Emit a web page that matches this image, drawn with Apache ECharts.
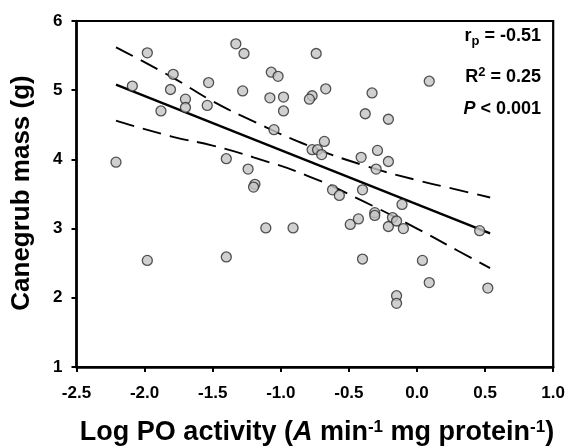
<!DOCTYPE html>
<html>
<head>
<meta charset="utf-8">
<script src="https://cdn.jsdelivr.net/npm/echarts@6/dist/echarts.min.js"></script>
<style>
html,body{margin:0;padding:0;background:#fff;}
#chart{width:568px;height:448px;}
</style>
</head>
<body>
<div id="chart"></div>
<script>
// log PO activity vs canegrub mass
var logPO = [-2.21,-2.09,-1.98,-1.98,-1.88,-1.81,-1.79,-1.70,-1.70,-1.53,-1.54,-1.40,-1.40,-1.33,-1.27,-1.28,
    -1.24,-1.19,-1.20,-1.11,-1.07,-1.02,-1.08,-1.05,-0.98,-0.98,-0.91,-0.74,-0.67,-0.77,-0.79,-0.68,
    -0.77,-0.73,-0.70,-0.62,-0.57,-0.49,-0.43,-0.41,-0.40,-0.40,-0.38,-0.33,-0.29,-0.30,-0.31,-0.31,
    -0.21,-0.21,-0.21,-0.18,-0.15,-0.15,-0.15,-0.11,-0.10,0.04,0.09,0.09,0.46,0.52];
var mass = [3.96,5.06,5.54,2.54,4.70,5.01,5.23,4.87,4.75,5.11,4.78,4.01,2.59,5.67,5.53,4.99,
    3.86,3.64,3.60,3.01,5.26,5.20,4.89,4.43,4.90,4.70,3.01,5.53,5.02,4.92,4.87,4.26,
    4.14,4.14,4.07,3.56,3.48,3.06,3.14,4.03,3.56,2.56,4.66,4.96,4.13,3.86,3.23,3.19,
    4.58,3.97,3.03,3.16,3.11,2.03,1.92,3.35,3.00,2.54,2.22,5.13,2.97,2.14];

// fitted line and 95% band
var fitX = [-2.21,0.537];
var fitY = [5.08,2.93];
var bandX = [-2.21,-1.8,-1.5,-1.2,-0.8,-0.4,0,0.3,0.537];
var bandUp = [5.62,5.19,4.84,4.55,4.20,3.92,3.70,3.56,3.45];
var bandLo = [4.56,4.33,4.20,4.03,3.76,3.40,3.00,2.68,2.43];

var xTicks = [-2.5,-2.0,-1.5,-1.0,-0.5,0.0,0.5,1.0];
var yTicks = [1,2,3,4,5,6];

function pairs(a,b){
    var out = [];
    for(var i=0;i<a.length;i++){ out.push([a[i],b[i]]); }
    return out;
}

var font = 'Liberation Sans, Arial, sans-serif';
var chart = echarts.init(document.getElementById('chart'));
var option = {
    animation:false,
    grid:{left:76.5,right:13,top:21,bottom:81,show:true,borderColor:'#000',borderWidth:2.2,backgroundColor:'transparent'},
    xAxis:{
        type:'value',min:xTicks[0],max:xTicks[xTicks.length-1],interval:0.5,
        axisLine:{onZero:false,lineStyle:{color:'#000',width:2.5}},
        axisTick:{inside:false,length:5,lineStyle:{color:'#000',width:2}},
        splitLine:{show:false},
        axisLabel:{margin:18,color:'#000',fontWeight:'bold',fontSize:17,fontFamily:font,
            formatter:function(v){return v.toFixed(1);}}
    },
    yAxis:{
        type:'value',min:yTicks[0],max:yTicks[yTicks.length-1],interval:1,
        axisLine:{onZero:false,lineStyle:{color:'#000',width:2.5}},
        axisTick:{inside:false,length:5,lineStyle:{color:'#000',width:2}},
        splitLine:{show:false},
        axisLabel:{margin:14,color:'#000',fontWeight:'bold',fontSize:17,fontFamily:font}
    },
    series:[
        {type:'line',data:pairs(bandX,bandUp),smooth:true,symbol:'none',z:2,
            lineStyle:{color:'#000',width:1.9,type:[19,9]}},
        {type:'line',data:pairs(bandX,bandLo),smooth:true,symbol:'none',z:2,
            lineStyle:{color:'#000',width:1.9,type:[19,9]}},
        {type:'line',data:pairs(fitX,fitY),symbol:'none',z:2,
            lineStyle:{color:'#000',width:2.4}},
        {type:'scatter',data:pairs(logPO,mass),symbolSize:10,z:3,
            itemStyle:{color:'#c4c4c4',borderColor:'#2a2a2a',borderWidth:1.3}}
    ],
    graphic:[
        {type:'text',x:317,y:433,style:{
            text:'Log PO activity ({i|A} min{s|-1} mg protein{s|-1})',
            font:'bold 27px '+font,fill:'#000',align:'center',verticalAlign:'middle',
            rich:{i:{fontStyle:'italic',fontWeight:'bold',fontSize:27,fontFamily:font},
                  s:{fontWeight:'bold',fontSize:17,fontFamily:font,padding:[0,0,12,0]}}
        }},
        {type:'text',rotation:Math.PI/2,x:9,y:193,style:{
            text:'Canegrub mass (g)',font:'bold 26px '+font,fill:'#000',
            align:'center',verticalAlign:'top'}},
        {type:'text',right:27,top:27,style:{
            text:'r{s|p} = -0.51',font:'bold 18px '+font,fill:'#000',
            rich:{s:{fontWeight:'bold',fontSize:13,fontFamily:font,padding:[11,0,0,0]}}}},
        {type:'text',right:27,top:66,style:{
            text:'R{s|2} = 0.25',font:'bold 18px '+font,fill:'#000',
            rich:{s:{fontWeight:'bold',fontSize:13,fontFamily:font,padding:[0,0,10,0]}}}},
        {type:'text',right:27,top:100,style:{
            text:'{i|P} < 0.001',font:'bold 18px '+font,fill:'#000',
            rich:{i:{fontStyle:'italic',fontWeight:'bold',fontSize:18,fontFamily:font}}}}
    ]
};
chart.setOption(option);
</script>
</body>
</html>
